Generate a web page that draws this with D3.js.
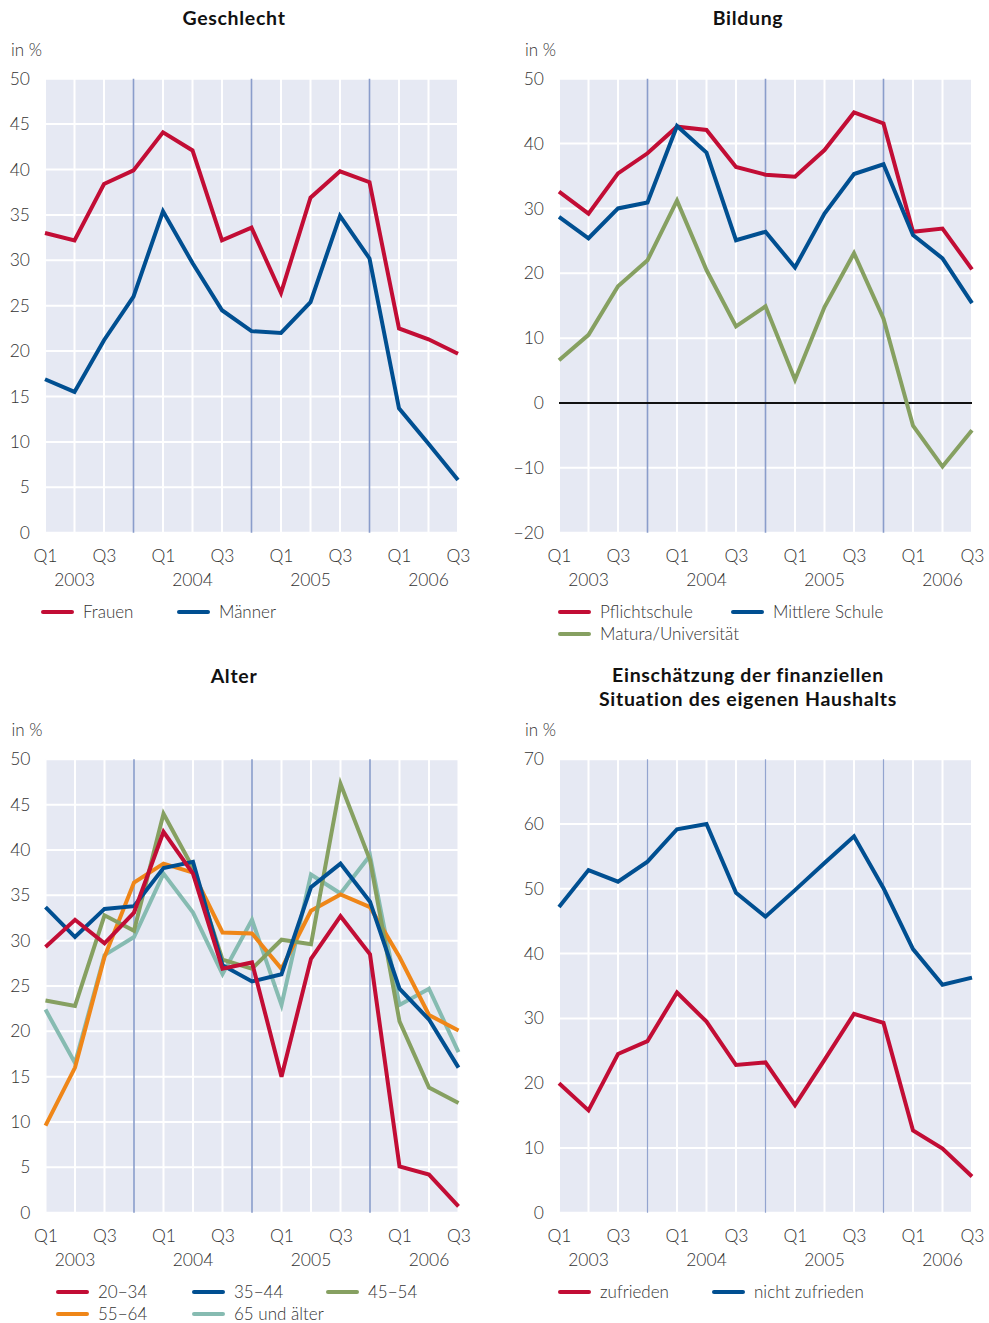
<!DOCTYPE html>
<html>
<head>
<meta charset="utf-8">
<script src="https://cdn.jsdelivr.net/npm/d3@7"></script>
<style>
  body { margin: 0; background: #fff; }
  svg text { font-family: Lato, "Open Sans", sans-serif; font-weight: 300; fill: #333; }
  svg text.title { font-family: Lato, "Open Sans", sans-serif; font-weight: 700; fill: #111; letter-spacing: 0.7px; }
</style>
</head>
<body>
<svg width="989" height="1323"></svg>
<script>
// quarters 2003 Q1 .. 2006 Q3
const quarters = ["2003 Q1","2003 Q2","2003 Q3","2003 Q4","2004 Q1","2004 Q2","2004 Q3","2004 Q4",
                  "2005 Q1","2005 Q2","2005 Q3","2005 Q4","2006 Q1","2006 Q2","2006 Q3"];
const years = ["2003", "2004", "2005", "2006"];

// Geschlecht
const frauen = [33.0, 32.2, 38.4, 39.9, 44.1, 42.1, 32.2, 33.6, 26.4, 36.9, 39.8, 38.6, 22.5, 21.3, 19.7];
const maenner = [16.9, 15.5, 21.2, 26.0, 35.4, 29.7, 24.5, 22.2, 22.0, 25.4, 34.9, 30.2, 13.7, 9.8, 5.8];

// Bildung
const pflichtschule = [32.6, 29.2, 35.4, 38.5, 42.6, 42.1, 36.4, 35.2, 34.9, 39.0, 44.8, 43.1, 26.4, 26.9, 20.6];
const mittlereSchule = [28.7, 25.4, 30.0, 30.9, 42.7, 38.6, 25.1, 26.4, 20.9, 29.2, 35.3, 36.8, 25.9, 22.3, 15.4];
const matura = [6.6, 10.5, 18.0, 22.0, 31.2, 20.5, 11.8, 14.9, 3.6, 14.8, 23.1, 13.0, -3.5, -9.8, -4.2];

// Alter
const a2034 = [29.3, 32.3, 29.7, 33.1, 42.0, 37.4, 26.9, 27.6, 15.0, 28.0, 32.7, 28.5, 5.1, 4.2, 0.7];
const a3544 = [33.7, 30.4, 33.5, 33.8, 38.0, 38.7, 27.3, 25.5, 26.3, 35.9, 38.5, 34.3, 24.7, 21.3, 16.0];
const a4554 = [23.4, 22.8, 32.8, 31.1, 44.0, 38.0, 27.9, 26.9, 30.1, 29.6, 47.3, 38.9, 21.1, 13.8, 12.1];
const a5564 = [9.6, 16.0, 28.2, 36.4, 38.5, 37.5, 30.9, 30.8, 26.9, 33.3, 35.1, 33.7, 28.2, 21.8, 20.1];
const a65 = [22.4, 16.5, 28.4, 30.4, 37.4, 33.1, 26.3, 32.3, 22.9, 37.3, 35.2, 39.4, 22.9, 24.7, 17.7];

// Finanzielle Situation
const zufrieden = [20.0, 15.8, 24.5, 26.5, 34.0, 29.5, 22.8, 23.2, 16.6, 23.6, 30.7, 29.3, 12.7, 9.9, 5.6];
const nichtZufrieden = [47.2, 52.9, 51.1, 54.2, 59.2, 60.0, 49.4, 45.7, 49.8, 54.0, 58.1, 50.1, 40.7, 35.2, 36.3];

const RED = "#c20d35", BLUE = "#004f91", GREEN = "#86a061", ORANGE = "#ef8618", TEAL = "#86bbb1";

const svg = d3.select("svg");

const panels = [
  { title: ["Geschlecht"], tx: 234, ty: 25, left: 45, right: 458, top: 78.7, bottom: 532.7,
    domain: [0, 50], ticks: d3.range(0, 51, 5), zeroLine: false, thinYear: false,
    series: [{ name: "Frauen", values: frauen, color: RED }, { name: "Männer", values: maenner, color: BLUE }],
    legend: [[43, 612, 0], [179, 612, 1]] },
  { title: ["Bildung"], tx: 748, ty: 25, left: 559, right: 972, top: 78.7, bottom: 532.7,
    domain: [-20, 50], ticks: d3.range(-20, 51, 10), zeroLine: true, thinYear: false,
    series: [{ name: "Pflichtschule", values: pflichtschule, color: RED },
             { name: "Mittlere Schule", values: mittlereSchule, color: BLUE },
             { name: "Matura/Universität", values: matura, color: GREEN }],
    legend: [[560, 612, 0], [733, 612, 1], [560, 634, 2]] },
  { title: ["Alter"], tx: 234, ty: 683, left: 45.5, right: 458.5, top: 759.3, bottom: 1212.7,
    domain: [0, 50], ticks: d3.range(0, 51, 5), zeroLine: false, thinYear: false,
    series: [{ name: "65 und älter", values: a65, color: TEAL },
             { name: "55−64", values: a5564, color: ORANGE },
             { name: "45−54", values: a4554, color: GREEN },
             { name: "35−44", values: a3544, color: BLUE },
             { name: "20−34", values: a2034, color: RED }],
    legend: [[58, 1292, 4], [194, 1292, 3], [328, 1292, 2], [58, 1314, 1], [194, 1314, 0]] },
  { title: ["Einschätzung der finanziellen", "Situation des eigenen Haushalts"], tx: 748, ty: 682,
    left: 559, right: 972, top: 759.3, bottom: 1212.7,
    domain: [0, 70], ticks: d3.range(0, 71, 10), zeroLine: false, thinYear: true,
    series: [{ name: "zufrieden", values: zufrieden, color: RED },
             { name: "nicht zufrieden", values: nichtZufrieden, color: BLUE }],
    legend: [[560, 1292, 0], [714, 1292, 1]] }
];

panels.forEach(p => {
  const g = svg.append("g");
  const x = d3.scalePoint().domain(quarters).range([p.left, p.right]);
  const y = d3.scaleLinear().domain(p.domain).range([p.bottom, p.top]);

  // title
  p.title.forEach((t, i) => {
    g.append("text").attr("class", "title").attr("x", p.tx).attr("y", p.ty + i * 24)
      .attr("text-anchor", "middle").attr("font-size", 19.5).text(t);
  });
  g.append("text").attr("x", p.left - 34).attr("y", p.top - 23)
    .attr("font-size", 17).text("in %");

  // background
  g.append("rect").attr("x", p.left).attr("y", p.top)
    .attr("width", p.right - p.left).attr("height", p.bottom - p.top).attr("fill", "#e6e9f3");

  // horizontal grid
  g.selectAll(".hg").data(p.ticks).enter().append("line")
    .attr("x1", p.left).attr("x2", p.right)
    .attr("y1", d => y(d)).attr("y2", d => y(d))
    .attr("stroke", "#fff").attr("stroke-width", 2);

  // vertical grid, Q4 lines in blue
  g.selectAll(".vg").data(quarters).enter().append("line")
    .attr("x1", d => x(d)).attr("x2", d => x(d))
    .attr("y1", p.top).attr("y2", p.bottom)
    .attr("stroke", d => d.endsWith("Q4") ? (p.thinYear ? "#93a4cf" : "#8a9dcb") : "#fff")
    .attr("stroke-width", d => d.endsWith("Q4") ? (p.thinYear ? 1.2 : 1.6) : 2);

  if (p.zeroLine) {
    g.append("line").attr("x1", p.left).attr("x2", p.right)
      .attr("y1", y(0)).attr("y2", y(0)).attr("stroke", "#111").attr("stroke-width", 2);
  }

  // y axis
  const yAxis = d3.axisLeft(y).tickValues(p.ticks).tickSize(0).tickPadding(15)
    .tickFormat(d => d < 0 ? "\u2212" + Math.abs(d) : d);
  g.append("g").attr("transform", "translate(" + p.left + ",0)").call(yAxis)
    .call(a => a.select(".domain").remove())
    .call(a => a.selectAll("text").attr("font-size", 17.5));

  // x axis
  const xAxis = d3.axisBottom(x).tickSize(0).tickPadding(17)
    .tickFormat(d => (d.endsWith("Q1") || d.endsWith("Q3")) ? d.slice(5) : "");
  g.append("g").attr("transform", "translate(0," + p.bottom + ")").call(xAxis)
    .call(a => a.select(".domain").remove())
    .call(a => a.selectAll("text").attr("font-size", 17.5));

  g.selectAll("g").attr("font-family", null);

  g.selectAll(".yr").data(years).enter().append("text")
    .attr("x", d => x(d + " Q2"))
    .attr("y", p.bottom + 53)
    .attr("text-anchor", "middle").attr("font-size", 17.5).text(d => d);

  // lines
  const line = d3.line().x((d, i) => x(quarters[i])).y(d => y(d));
  p.series.forEach(s => {
    g.append("path").datum(s.values).attr("d", line)
      .attr("fill", "none").attr("stroke", s.color).attr("stroke-width", 4)
      .attr("stroke-linejoin", "miter");
  });

  // legend
  p.legend.forEach(([lx, ly, si]) => {
    const s = p.series[si];
    g.append("line").attr("x1", lx).attr("x2", lx + 29).attr("y1", ly).attr("y2", ly)
      .attr("stroke", s.color).attr("stroke-width", 4).attr("stroke-linecap", "round");
    g.append("text").attr("x", lx + 40).attr("y", ly + 6).attr("font-size", 17).text(s.name);
  });
});
</script>
</body>
</html>
